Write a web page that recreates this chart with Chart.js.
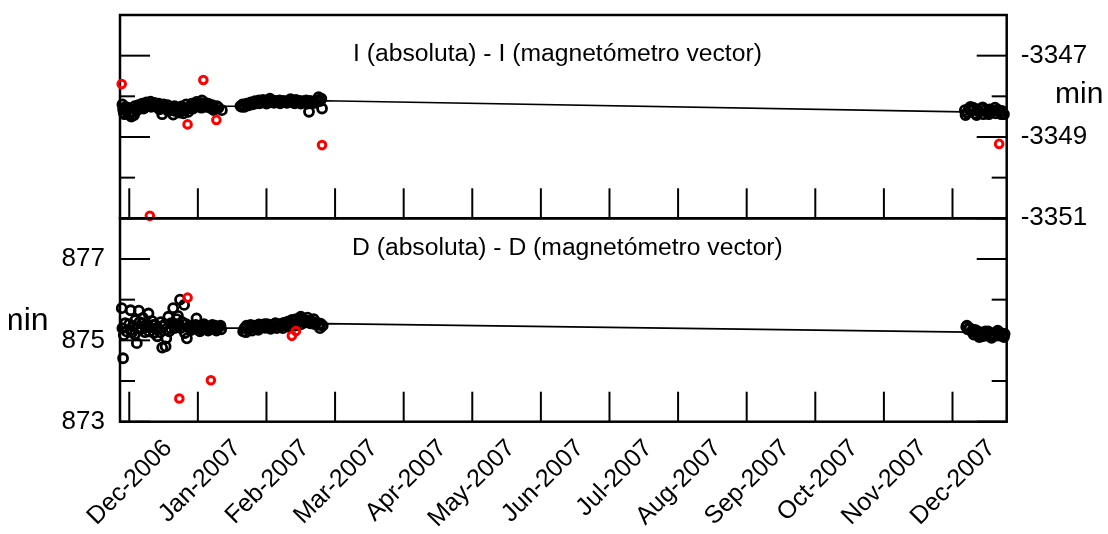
<!DOCTYPE html>
<html><head><meta charset="utf-8">
<script src="https://cdn.jsdelivr.net/npm/chart.js@4.4.0/dist/chart.umd.min.js"></script>
<style>
html,body{margin:0;padding:0;background:#fff;width:1108px;height:534px;overflow:hidden}
canvas{position:absolute;left:0;top:0}
</style></head>
<body>
<canvas id="cI" width="1108" height="534"></canvas>
<canvas id="cD" width="1108" height="534"></canvas>
<script>
// ---------- DATA (x = months after the Dec-2006 tick) ----------
const monthLabels = ['Dec-2006','Jan-2007','Feb-2007','Mar-2007','Apr-2007','May-2007','Jun-2007','Jul-2007','Aug-2007','Sep-2007','Oct-2007','Nov-2007','Dec-2007'];
const xMin = -0.135, xMax = 12.79;

const iTitle = 'I (absoluta) - I (magnetómetro vector)';
const dTitle = 'D (absoluta) - D (magnetómetro vector)';
const unitLabel = 'min';

const iRange = [-3351, -3346];
const dRange = [873, 878];

// I panel: black points
const iBlackX = [-0.10,-0.09,-0.08,-0.06,-0.04,0.00,0.03,0.05,0.07,0.10,0.13,0.16,0.19,0.22,0.25,0.28,0.31,0.34,0.37,0.40,0.43,0.46,0.48,0.50,0.53,0.56,0.59,0.62,0.64,0.67,0.70,0.73,0.76,0.78,0.81,0.83,0.86,0.88,0.91,0.93,0.96,0.98,1.01,1.03,1.06,1.09,1.12,1.15,1.18,1.21,1.24,1.28,1.35,
  -0.07,-0.02,0.01,0.08,0.12,0.17,0.21,0.27,0.32,0.38,0.44,0.51,0.57,0.66,0.72,0.79,0.85,0.94,1.00,1.05,1.11,1.17,1.23,1.30,
  1.62,1.65,1.68,1.71,1.74,1.77,1.80,1.83,1.86,1.89,1.92,1.95,1.98,2.01,2.04,2.07,2.10,2.13,2.16,2.19,2.22,2.25,2.28,2.31,2.34,2.37,2.40,2.43,2.46,2.49,2.52,2.55,2.58,2.61,2.64,2.67,2.70,2.73,2.76,2.78,2.81,
  1.64,1.72,1.81,1.90,2.00,2.11,2.20,2.30,2.41,2.50,2.60,2.70,2.80,2.05,2.35,2.62,
  12.18,12.21,12.24,12.27,12.30,12.33,12.36,12.39,12.42,12.45,12.48,12.51,12.54,12.57,12.60,12.63,12.66,12.69,12.72,12.75,
  12.19,12.26,12.35,12.44,12.53,12.62,12.71,12.74];
const iBlackY = [-3348.20,-3348.32,-3348.40,-3348.26,-3348.36,-3348.45,-3348.50,-3348.38,-3348.46,-3348.30,-3348.22,-3348.28,-3348.18,-3348.25,-3348.15,-3348.22,-3348.13,-3348.20,-3348.16,-3348.24,-3348.18,-3348.28,-3348.44,-3348.20,-3348.26,-3348.22,-3348.33,-3348.30,-3348.45,-3348.36,-3348.28,-3348.40,-3348.25,-3348.35,-3348.30,-3348.20,-3348.38,-3348.26,-3348.18,-3348.30,-3348.22,-3348.14,-3348.24,-3348.16,-3348.10,-3348.20,-3348.26,-3348.18,-3348.28,-3348.22,-3348.30,-3348.24,-3348.34,
  -3348.44,-3348.28,-3348.38,-3348.24,-3348.34,-3348.20,-3348.30,-3348.18,-3348.26,-3348.22,-3348.32,-3348.30,-3348.36,-3348.24,-3348.32,-3348.42,-3348.30,-3348.26,-3348.20,-3348.28,-3348.16,-3348.24,-3348.34,-3348.28,
  -3348.24,-3348.20,-3348.26,-3348.18,-3348.22,-3348.15,-3348.20,-3348.12,-3348.17,-3348.10,-3348.14,-3348.09,-3348.13,-3348.11,-3348.15,-3348.10,-3348.13,-3348.11,-3348.14,-3348.10,-3348.13,-3348.11,-3348.15,-3348.12,-3348.10,-3348.14,-3348.12,-3348.09,-3348.13,-3348.11,-3348.15,-3348.12,-3348.10,-3348.14,-3348.11,-3348.16,-3348.13,-3348.10,-3348.02,-3348.12,
  -3348.30,-3348.26,-3348.22,-3348.18,-3348.17,-3348.18,-3348.16,-3348.17,-3348.16,-3348.17,-3348.18,-3348.18,-3348.16,-3348.06,-3348.06,-3348.07,
  -3348.38,-3348.34,-3348.40,-3348.30,-3348.36,-3348.28,-3348.42,-3348.32,-3348.38,-3348.30,-3348.44,-3348.34,-3348.40,-3348.32,-3348.38,-3348.35,-3348.42,-3348.33,-3348.38,-3348.36,
  -3348.44,-3348.46,-3348.26,-3348.46,-3348.27,-3348.44,-3348.28,-3348.44];
// I panel: red (rejected) points
const iRedX = [-0.11, 1.08, 0.85, 1.27, 2.81, 0.30, 12.68];
const iRedY = [-3347.70, -3347.60, -3348.69, -3348.58, -3349.20, -3350.94, -3349.17];
// I panel: trend line
const iTrendX = [-0.13, 1.6, 2.85, 12.78];
const iTrendY = [-3348.26, -3348.24, -3348.11, -3348.40];

// D panel: black points
const dBlackX = [-0.11,-0.10,-0.09,-0.08,-0.06,-0.04,0.02,0.02,0.05,0.08,0.11,0.14,0.15,0.18,0.20,0.23,0.26,0.28,0.30,0.33,0.36,0.38,0.41,0.43,0.46,0.48,0.50,0.53,0.54,0.57,0.58,0.61,0.64,0.66,0.69,0.72,0.74,0.77,0.80,0.81,0.84,0.86,0.89,0.92,0.95,0.98,1.01,1.04,1.07,1.10,1.13,1.16,1.19,1.22,1.25,1.28,1.31,1.34,
  0.00,0.04,0.09,0.13,0.19,0.24,0.29,0.35,0.40,0.45,0.52,0.60,0.68,0.71,0.75,0.83,0.90,0.97,1.03,1.09,1.15,1.21,1.27,1.33,
  1.66,1.68,1.71,1.74,1.77,1.80,1.83,1.86,1.89,1.92,1.95,1.98,2.01,2.04,2.07,2.10,2.13,2.16,2.19,2.22,2.25,2.28,2.31,2.34,2.37,2.40,2.43,2.46,2.49,2.52,2.55,2.58,2.61,2.64,2.67,2.70,2.73,2.76,2.79,2.82,
  1.70,1.79,1.88,1.97,2.06,2.15,2.24,2.33,2.42,2.51,2.60,2.69,2.78,2.50,
  12.20,12.22,12.25,12.28,12.31,12.34,12.37,12.40,12.43,12.46,12.49,12.52,12.55,12.58,12.61,12.64,12.67,12.70,12.73,12.76,
  12.21,12.30,12.39,12.48,12.57,12.66,12.75];
const dBlackY = [875.79,875.30,874.56,875.13,875.42,875.22,875.74,875.25,875.35,875.15,874.93,875.73,875.45,875.28,875.55,875.20,875.40,875.66,875.32,875.48,875.18,875.38,875.10,875.28,875.45,874.82,875.35,874.85,875.05,875.58,875.22,875.42,875.79,875.30,875.52,875.38,876.00,875.45,875.87,875.18,875.05,875.33,875.28,875.36,875.30,875.54,875.32,875.27,875.35,875.30,875.34,875.28,875.33,875.30,875.36,875.29,875.33,875.27,
  875.40,875.20,875.50,875.30,875.42,875.32,875.22,875.38,875.30,875.20,875.40,875.30,875.40,875.60,875.30,875.40,875.25,875.38,875.22,875.40,875.24,875.38,875.24,875.36,
  875.22,875.30,875.36,875.28,875.38,875.31,875.36,875.30,875.39,875.33,875.37,875.31,875.40,875.34,875.38,875.33,875.42,875.36,875.40,875.35,875.43,875.38,875.46,875.40,875.50,875.42,875.52,875.45,875.53,875.47,875.50,875.44,875.48,875.42,875.46,875.40,875.44,875.38,875.41,875.36,
  875.20,875.24,875.26,875.40,875.28,875.30,875.30,875.33,875.36,875.40,875.56,875.52,875.30,875.58,
  875.33,875.27,875.30,875.22,875.14,875.25,875.12,875.20,875.10,875.18,875.12,875.22,875.10,875.17,875.12,875.20,875.14,875.18,875.12,875.16,
  875.36,875.26,875.08,875.22,875.06,875.24,875.08];
// D panel: red (rejected) points
const dRedX = [0.85, 1.19, 0.73, 2.37, 2.43];
const dRedY = [876.05, 874.02, 873.57, 875.11, 875.23];
// D panel: trend line
const dTrendX = [-0.13, 1.7, 2.85, 12.78];
const dTrendY = [875.30, 875.30, 875.41, 875.19];

// ---------- RENDERING ----------
Chart.defaults.font.family = '"Liberation Sans", Arial, Helvetica, sans-serif';
Chart.defaults.color = '#000';
const pts = (xs, ys) => xs.map((x, i) => ({x: x, y: ys[i]}));

const panelPlugin = {
  id: 'panel',
  beforeDatasetsDraw(chart, args, o) {
    const {ctx, chartArea: a} = chart;
    const xs = chart.scales.x, ys = chart.scales.y;
    ctx.save();
    ctx.strokeStyle = '#000';
    ctx.lineWidth = 2;
    const seg = (x1, y1, x2, y2) => { ctx.beginPath(); ctx.moveTo(x1, y1); ctx.lineTo(x2, y2); ctx.stroke(); };
    xs.ticks.forEach(t => {
      if (!Number.isInteger(t.value)) return;
      const px = xs.getPixelForValue(t.value);
      seg(px, a.bottom, px, a.bottom - 30);
    });
    ys.ticks.forEach(t => {
      const py = ys.getPixelForValue(t.value);
      const L = (Math.abs(Math.round(t.value)) % 2 === 1) ? 30 : 15;
      seg(a.left, py, a.left + L, py);
      seg(a.right, py, a.right - L, py);
    });
    ctx.lineWidth = 2.5;
    ctx.strokeRect(a.left, a.top, a.right - a.left, a.bottom - a.top);
    ctx.restore();
  },
  afterDraw(chart, args, o) {
    const ctx = chart.ctx;
    ctx.save();
    ctx.fillStyle = '#000';
    ctx.font = '24.7px "Liberation Sans", Arial, sans-serif';
    ctx.textAlign = 'left';
    ctx.textBaseline = 'middle';
    ctx.fillText(o.title, o.titleX, chart.chartArea.top + o.titleDy);
    ctx.font = o.unitFont + 'px "Liberation Sans", Arial, sans-serif';
    ctx.beginPath();
    ctx.rect(o.unitClip, 0, 2000, 2000);
    ctx.clip();
    ctx.fillText(unitLabel, o.unitX, o.unitY);
    ctx.restore();
  }
};

function zeroPad(s) { s.paddingTop = 0; s.paddingBottom = 0; s.paddingLeft = 0; s.paddingRight = 0; }

function makeChart(id, cfg) {
  const xScale = {
    type: 'linear', min: xMin, max: xMax, display: cfg.showX, position: 'bottom',
    grid: {display: false, drawTicks: false}, border: {display: false},
    ticks: {
      stepSize: 1, includeBounds: false, autoSkip: false,
      minRotation: 45, maxRotation: 45, labelOffset: 39, padding: 12,
      font: {size: 25}, color: '#000',
      callback: v => Number.isInteger(v) ? monthLabels[v] : ''
    },
    afterFit(s) { s.height = cfg.xH; zeroPad(s); }
  };
  const yScale = {
    type: 'linear', position: cfg.yPos, min: cfg.range[0], max: cfg.range[1],
    grid: {display: false, drawTicks: false}, border: {display: false},
    ticks: {
      stepSize: 1, includeBounds: false, autoSkip: false, padding: cfg.yPad,
      font: {size: 26}, color: '#000',
      callback: v => (Math.abs(Math.round(v)) % 2 === 1) ? String(v) : ''
    },
    afterFit(s) { s.width = cfg.yW; zeroPad(s); }
  };
  return new Chart(document.getElementById(id), {
    type: 'scatter',
    data: {
      datasets: [
        {data: pts(cfg.redX, cfg.redY), pointRadius: 3.8, pointBorderWidth: 3,
         pointBorderColor: '#ff0000', pointBackgroundColor: 'rgba(0,0,0,0)', showLine: false, order: 0, clip: false},
        {data: pts(cfg.blackX, cfg.blackY), pointRadius: 4.5, pointBorderWidth: 2.8,
         pointBorderColor: '#000', pointBackgroundColor: 'rgba(0,0,0,0)', showLine: false, order: 1, clip: false},
        {data: pts(cfg.trendX, cfg.trendY), showLine: true, pointRadius: 0, borderColor: '#000',
         borderWidth: 1.6, order: 2, clip: false}
      ]
    },
    options: {
      responsive: false, animation: false, devicePixelRatio: 1, events: [],
      layout: {padding: cfg.padding},
      scales: {x: xScale, y: yScale},
      plugins: {legend: {display: false}, tooltip: {enabled: false}, panel: cfg.panel}
    },
    plugins: [panelPlugin]
  });
}

makeChart('cI', {
  showX: false, xH: 0, yPos: 'right', yW: 101.3, range: iRange, yPad: 14,
  redX: iRedX, redY: iRedY, blackX: iBlackX, blackY: iBlackY, trendX: iTrendX, trendY: iTrendY,
  padding: {left: 120, right: 0, top: 15, bottom: 315.7},
  panel: {title: iTitle, titleX: 353, titleDy: 39, unitX: 1055, unitY: 95, unitFont: 30, unitClip: 0}
});
makeChart('cD', {
  showX: true, xH: 112.3, yPos: 'left', yW: 120, range: dRange, yPad: 15,
  redX: dRedX, redY: dRedY, blackX: dBlackX, blackY: dBlackY, trendX: dTrendX, trendY: dTrendY,
  padding: {left: 0, right: 101.3, top: 218.3, bottom: 0},
  panel: {title: dTitle, titleX: 352, titleDy: 30, unitX: -3, unitY: 321, unitFont: 32, unitClip: 9}
});
</script>
</body></html>
